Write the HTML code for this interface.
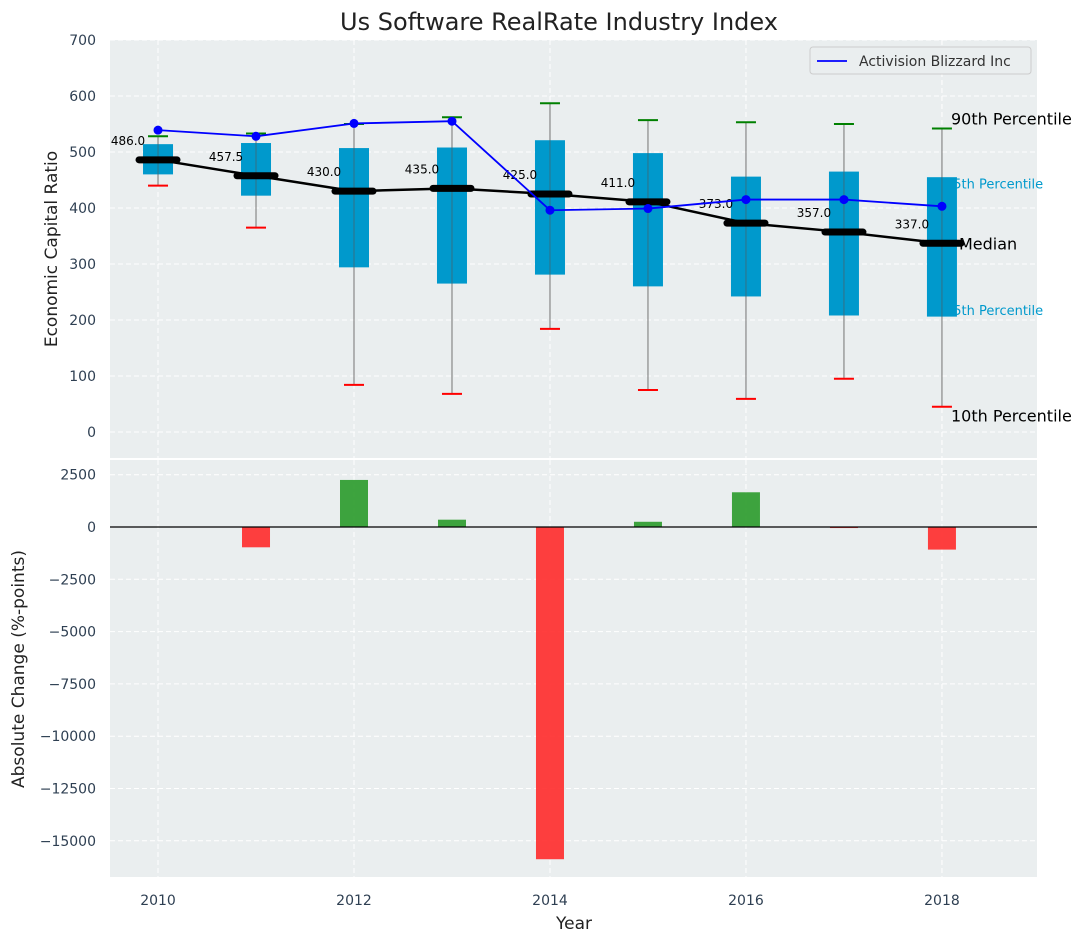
<!DOCTYPE html>
<html><head><meta charset="utf-8"><style>
body{margin:0;background:#fff;}
svg text{font-family:"DejaVu Sans","Liberation Sans",sans-serif;}
</style></head><body>
<svg id="chart" width="1086" height="942" xmlns="http://www.w3.org/2000/svg"></svg>
<script>
const years=[2010,2011,2012,2013,2014,2015,2016,2017,2018];
const medians=[486.0,457.5,430.0,435.0,425.0,411.0,373.0,357.0,337.0];
const p75=[514,516,507,508,521,498,456,465,455];
const p25=[460,422,294,265,281,260,242,208,206];
const p90=[528,533,550,562,587,557,553,550,542];
const p10=[440,365,84,68,184,75,59,95,45];
const company=[539,528,551,555,396,399,415,415,403];
const changes=[0,-970,2250,350,-15880,250,1660,-50,-1080];
const topTicks=[0,100,200,300,400,500,600,700];
const botTicks=[2500,0,-2500,-5000,-7500,-10000,-12500,-15000];
const xTicks=[2010,2012,2014,2016,2018];

const NS="http://www.w3.org/2000/svg";
const svg=document.getElementById('chart');
function el(tag,attrs,parent){const e=document.createElementNS(NS,tag);for(const k in attrs)e.setAttribute(k,attrs[k]);(parent||svg).appendChild(e);return e;}
const L=110,R=1037;
const X=v=>L+(v-2009.51)/(2018.97-2009.51)*(R-L);
const T0=40,T1=458,B0=460,B1=877;
const Yt=v=>T0+(700-v)/(700-(-46.5))*(T1-T0);
const Yb=v=>B0+(3203-v)/(3203-(-16730))*(B1-B0);

let e=el('rect',{x:L,y:T0,width:R-L,height:T1-T0,fill:'#eaeeef'});

e=el('rect',{x:L,y:B0,width:R-L,height:B1-B0,fill:'#eaeeef'});


xTicks.forEach(t=>{
 el('line',{x1:X(t),x2:X(t),y1:T0,y2:T1,stroke:'#fff','stroke-dasharray':'5,3','stroke-width':1});
 el('line',{x1:X(t),x2:X(t),y1:B0,y2:B1,stroke:'#fff','stroke-dasharray':'5,3','stroke-width':1});
 const tx=el('text',{x:X(t),y:905,'text-anchor':'middle','font-size':14,fill:'#2e3f52'});tx.textContent=t;
 
});
topTicks.forEach(t=>{
 el('line',{x1:L,x2:R,y1:Yt(t),y2:Yt(t),stroke:'#fff','stroke-dasharray':'5,3','stroke-width':1});
 const tx=el('text',{x:96,y:Yt(t)+5,'text-anchor':'end','font-size':14,fill:'#2e3f52'});tx.textContent=t;
 
});
botTicks.forEach(t=>{
 el('line',{x1:L,x2:R,y1:Yb(t),y2:Yb(t),stroke:'#fff','stroke-dasharray':'5,3','stroke-width':1});
 const tx=el('text',{x:96,y:Yb(t)+5,'text-anchor':'end','font-size':14,fill:'#2e3f52'});tx.textContent=t.toString().replace('-','\u2212');
 
});

const ann=[['90th Percentile',p90[8]+18,'#000',16,951],['75th Percentile',p75[8]-11,'#0099cc',13,945],['Median',medians[8],'#000',16,959],['25th Percentile',p25[8]+12,'#0099cc',13,945],['10th Percentile',p10[8]-16,'#000',16,951]];
ann.forEach(a=>{
 const tx=el('text',{x:a[4],y:Yt(a[1])+(a[3]==16?6:5),'font-size':a[3],fill:a[2]});tx.textContent=a[0];
 
});

years.forEach((y,i)=>{
 const cx=X(y);
 el('line',{x1:cx,x2:cx,y1:Yt(p90[i]),y2:Yt(p10[i]),stroke:'#888','stroke-width':1.2});
 let g=el('line',{x1:cx-10,x2:cx+10,y1:Yt(p90[i]),y2:Yt(p90[i]),stroke:'green','stroke-width':2});
 
 g=el('line',{x1:cx-10,x2:cx+10,y1:Yt(p10[i]),y2:Yt(p10[i]),stroke:'red','stroke-width':2});
 
 const b=el('rect',{x:cx-15,y:Yt(p75[i]),width:30,height:Yt(p25[i])-Yt(p75[i]),fill:'#0099cc'});
 
 el('line',{x1:cx,x2:cx,y1:Yt(p75[i]),y2:Yt(p25[i]),stroke:'#555','stroke-width':1,'stroke-opacity':0.6});
});
let pts=years.map((y,i)=>X(y)+','+Yt(medians[i])).join(' ');
e=el('polyline',{points:pts,fill:'none',stroke:'#000','stroke-width':2.5});

years.forEach((y,i)=>{
 const m=el('line',{x1:X(y)-19,x2:X(y)+19,y1:Yt(medians[i]),y2:Yt(medians[i]),stroke:'#000','stroke-width':7,'stroke-linecap':'round'});
 
 const tx=el('text',{x:X(y)-30,y:Yt(medians[i])-15,'text-anchor':'middle','font-size':12,fill:'#000'});tx.textContent=medians[i].toFixed(1);
 
});
pts=years.map((y,i)=>X(y)+','+Yt(company[i])).join(' ');
e=el('polyline',{points:pts,fill:'none',stroke:'#0000ff','stroke-width':1.8});

years.forEach((y,i)=>{
 const c=el('circle',{cx:X(y),cy:Yt(company[i]),r:4.5,fill:'#0000ff'});
 
});

const lg=el('g',{});

el('rect',{x:810,y:47,width:221,height:27,rx:3,fill:'#eaeeef',stroke:'#ccc'},lg);
el('line',{x1:817,x2:847,y1:61,y2:61,stroke:'#0000ff','stroke-width':1.8},lg);
let lt=el('text',{x:859,y:66,'font-size':14,fill:'#333'},lg);lt.textContent='Activision Blizzard Inc';

years.forEach((y,i)=>{
 const v=changes[i];
 const y0=Yb(Math.max(v,0)),y1=Yb(Math.min(v,0));
 const b=el('rect',{x:X(y)-14,y:y0,width:28,height:Math.max(y1-y0,0.5),fill:v>=0?'#2a9a2a':'#ff2a2a','fill-opacity':0.9});
 
});
el('line',{x1:L,x2:R,y1:Yb(0),y2:Yb(0),stroke:'#000','stroke-width':1.2});

let t=el('text',{x:559,y:30,'text-anchor':'middle','font-size':24,fill:'#222'});t.textContent='Us Software RealRate Industry Index';

t=el('text',{x:574,y:929,'text-anchor':'middle','font-size':17,fill:'#222'});t.textContent='Year';

t=el('text',{x:57,y:249,'text-anchor':'middle','font-size':17,fill:'#222',transform:'rotate(-90 57 249)'});t.textContent='Economic Capital Ratio';

t=el('text',{x:24,y:669,'text-anchor':'middle','font-size':17,fill:'#222',transform:'rotate(-90 24 669)'});t.textContent='Absolute Change (%-points)';

</script>
</body></html>
